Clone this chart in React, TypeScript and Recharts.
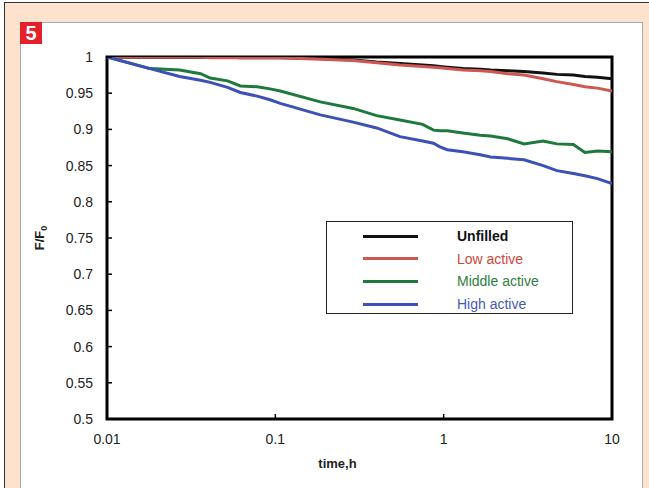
import { LineChart, Line, XAxis, YAxis, Legend, ReferenceArea } from 'recharts';

// sampling times (h), shared by all four curves
const times = [
  0.01, 0.018, 0.027, 0.036, 0.041, 0.052, 0.062, 0.078, 0.093, 0.107, 0.185, 0.29, 0.4, 0.55, 0.75, 0.87, 0.95,
  1.05, 1.3, 1.65, 1.9, 2.4, 3.0, 3.9, 4.7, 5.9, 6.9, 8.2, 10,
];

const unfilled = [
  1.0, 1.0, 1.0, 1.0, 1.0, 1.0, 0.999, 0.999, 0.999, 0.999, 0.998, 0.996, 0.993, 0.991, 0.989, 0.988, 0.987, 0.986,
  0.984, 0.983, 0.982, 0.981, 0.98, 0.978, 0.976, 0.975, 0.973, 0.972, 0.97,
];

const lowActive = [
  1.0, 1.0, 1.0, 1.0, 0.999, 0.999, 0.999, 0.999, 0.999, 0.999, 0.997, 0.995, 0.992, 0.989, 0.987, 0.986, 0.985,
  0.984, 0.982, 0.981, 0.98, 0.977, 0.975, 0.97, 0.966, 0.962, 0.959, 0.957, 0.953,
];

const middleActive = [
  1.0, 0.984, 0.982, 0.977, 0.971, 0.967, 0.96, 0.959, 0.956, 0.953, 0.938, 0.929, 0.919, 0.913, 0.907, 0.899,
  0.898, 0.898, 0.895, 0.892, 0.891, 0.887, 0.88, 0.884, 0.88, 0.879, 0.868, 0.87, 0.869,
];

const highActive = [
  1.0, 0.984, 0.973, 0.968, 0.965, 0.958, 0.951, 0.946, 0.941, 0.936, 0.92, 0.91, 0.902, 0.89, 0.884, 0.881, 0.876,
  0.872, 0.869, 0.865, 0.862, 0.86, 0.858, 0.85, 0.843, 0.839, 0.836, 0.832, 0.825,
];

const xTicks = [0.01, 0.1, 1, 10];
const yTicks = [0.5, 0.55, 0.6, 0.65, 0.7, 0.75, 0.8, 0.85, 0.9, 0.95, 1];

const series = [
  { key: 'unfilled', name: 'Unfilled', color: '#111111', text: '#111111' },
  { key: 'low', name: 'Low active', color: '#cf5752', text: '#d0463a' },
  { key: 'middle', name: 'Middle active', color: '#1e7a3c', text: '#2e7e3e' },
  { key: 'high', name: 'High active', color: '#3c50b8', text: '#4658bf' },
];

const chartData = times.map((t, i) => ({
  t,
  unfilled: unfilled[i],
  low: lowActive[i],
  middle: middleActive[i],
  high: highActive[i],
}));

const FONT = '"Liberation Sans", Arial, sans-serif';

function LegendBox() {
  return (
    <div
      style={{
        width: 245,
        height: 88,
        paddingTop: 3,
        border: '1px solid #222',
        background: '#fff',
        fontFamily: FONT,
      }}>
      {series.map((s) => (
        <div
          key={s.key}
          style={{ display: 'flex', alignItems: 'center', height: 22.6 }}>
          <div style={{ marginLeft: 36, width: 55, height: 3, background: s.color }} />
          <span style={{ marginLeft: 39, color: s.text, fontSize: 14, fontWeight: s.key === 'unfilled' ? 'bold' : 'normal' }}>
            {s.name}
          </span>
        </div>
      ))}
    </div>
  );
}

function YLabel() {
  return (
    <text
      transform='translate(44 238) rotate(-90)'
      textAnchor='middle'
      fontSize={13}
      fontWeight='bold'
      fontFamily={FONT}
      fill='#222'>
      F/F
      <tspan
        dy={3}
        fontSize={9}>
        0
      </tspan>
    </text>
  );
}

export default function App() {
  return (
    <div
      style={{
        position: 'absolute',
        left: 0,
        top: 0,
        width: 649,
        height: 488,
        overflow: 'hidden',
        background: '#fff',
        fontFamily: FONT,
      }}>
      <div style={{ position: 'absolute', left: 4, top: 2, width: 700, height: 600, background: '#fde3cd', border: '1px solid #333' }} />
      <div style={{ position: 'absolute', left: 20, top: 22, width: 621, height: 600, background: '#fff', border: '1px solid #aaa' }} />
      <div
        style={{
          position: 'absolute',
          left: 20,
          top: 22,
          width: 22,
          height: 22,
          background: '#e5202b',
          color: '#fff',
          fontWeight: 'bold',
          fontSize: 20,
          lineHeight: '22px',
          textAlign: 'center',
        }}>
        5
      </div>
      <div style={{ position: 'absolute', left: 0, top: 0 }}>
        <LineChart
          width={649}
          height={488}
          data={chartData}
          margin={{ top: 57, right: 37, left: 37, bottom: 19 }}>
          <XAxis
            dataKey='t'
            type='number'
            scale='log'
            domain={[0.01, 10]}
            ticks={xTicks}
            allowDataOverflow
            height={50}
            axisLine={false}
            tickLine={{ stroke: '#000', strokeWidth: 1.5 }}
            tickSize={-5}
            tickMargin={20}
            tick={{ fill: '#222', fontSize: 14, fontFamily: FONT }}
            tickFormatter={(v: number) => String(v)}
            label={{
              value: 'time,h',
              position: 'insideBottom',
              offset: 1,
              dx: -22,
              fill: '#222',
              fontSize: 13,
              fontWeight: 'bold',
              fontFamily: FONT,
            }}
          />
          <YAxis
            type='number'
            domain={[0.5, 1]}
            ticks={yTicks}
            interval={0}
            allowDataOverflow
            width={70}
            axisLine={false}
            tickLine={{ stroke: '#000', strokeWidth: 1.5 }}
            tickSize={-5}
            tickMargin={19}
            tick={{ fill: '#222', fontSize: 14, fontFamily: FONT }}
            label={<YLabel />}
          />
          <ReferenceArea
            x1={0.01}
            x2={10}
            y1={0.5}
            y2={1}
            fill='none'
            stroke='#000'
            strokeWidth={3}
            ifOverflow='visible'
          />
          <Legend
            layout='horizontal'
            verticalAlign='middle'
            content={<LegendBox />}
            wrapperStyle={{ left: 326, top: 221, width: 'auto' }}
          />
          {series.map((s) => (
            <Line
              key={s.key}
              type='linear'
              dataKey={s.key}
              name={s.name}
              stroke={s.color}
              strokeWidth={3}
              dot={false}
              isAnimationActive={false}
            />
          ))}
        </LineChart>
      </div>
    </div>
  );
}
